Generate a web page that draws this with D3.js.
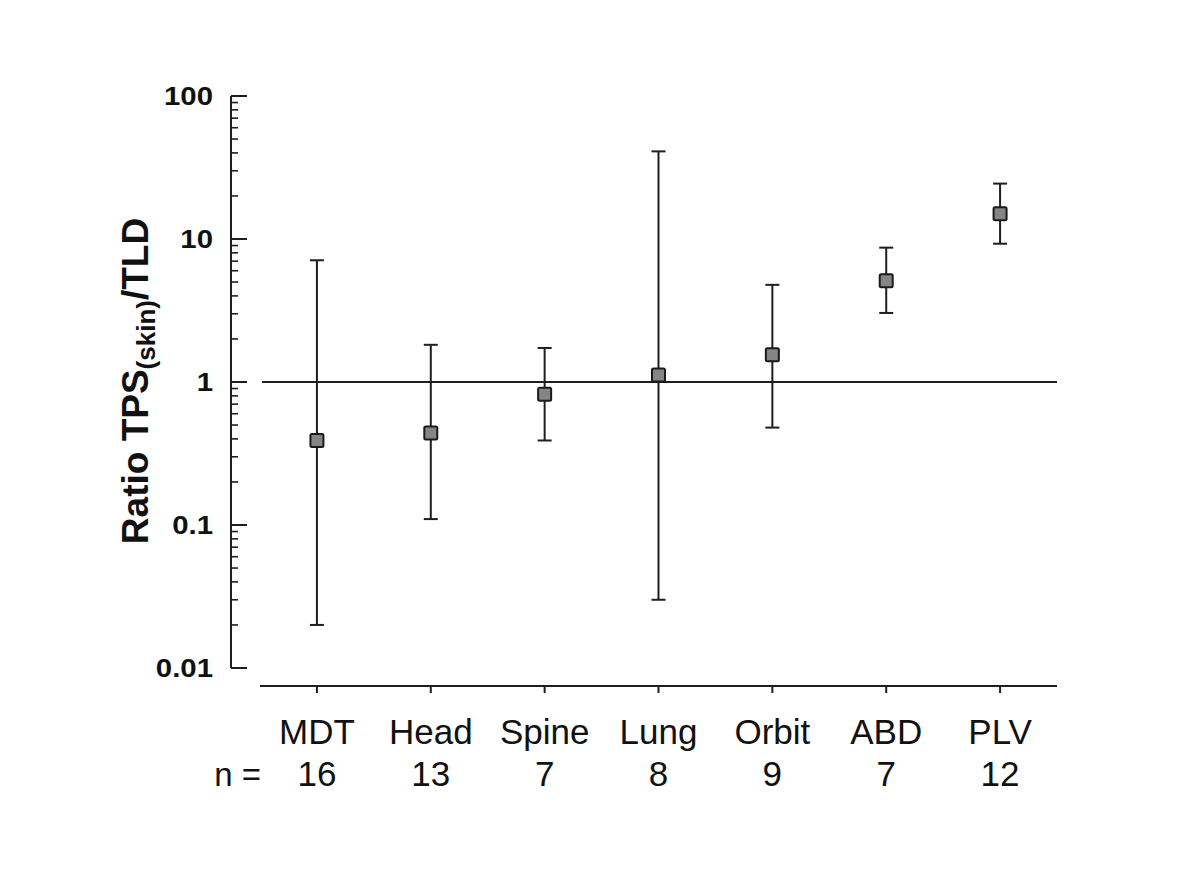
<!DOCTYPE html>
<html><head><meta charset="utf-8">
<script src="https://cdn.jsdelivr.net/npm/d3@7"></script>
<style>body{margin:0;background:#fff}svg{display:block}</style>
</head><body>
<svg id="c" width="1200" height="882"></svg>
<script>
const categories = ["MDT","Head","Spine","Lung","Orbit","ABD","PLV"];
const counts = [16,13,7,8,9,7,12];
const medians = [0.39,0.44,0.82,1.12,1.55,5.1,15.0];
const lower = [0.02,0.11,0.39,0.03,0.48,3.04,9.27];
const upper = [7.1,1.82,1.73,41,4.78,8.7,24.4];
const yTicks = [0.01,0.1,1,10,100];
const yTickLabels = ["0.01","0.1","1","10","100"];

const svg = d3.select("#c");
const ink = "#1e1e1e";
const font = "Liberation Sans, Arial, sans-serif";
const y = d3.scaleLog().domain([0.01,100]).range([668,96]);
const x = d3.scalePoint().domain(categories).range([260,1057]).padding(0.5);
const axX = 231;

// y axis line
svg.append("line").attr("x1",axX).attr("x2",axX).attr("y1",y(100)).attr("y2",y(0.01))
  .attr("stroke",ink).attr("stroke-width",2);
const minors = [];
for (let d=0.01; d<100; d*=10) for (let k=2;k<=9;k++) minors.push(+(d*k).toPrecision(3));
svg.selectAll(".mn").data(minors).join("line")
  .attr("x1",axX).attr("x2",axX+7).attr("y1",d=>y(d)).attr("y2",d=>y(d))
  .attr("stroke",ink).attr("stroke-width",1.6);
svg.selectAll(".mj").data(yTicks).join("line")
  .attr("x1",axX).attr("x2",axX+16).attr("y1",d=>y(d)).attr("y2",d=>y(d))
  .attr("stroke",ink).attr("stroke-width",2);
svg.selectAll(".yl").data(yTicks).join("text")
  .attr("transform",d=>`translate(213,${y(d)}) scale(1.13,1)`)
  .attr("dy","0.36em").attr("text-anchor","end")
  .attr("font-family",font).attr("font-weight","bold")
  .attr("font-size",26).attr("fill","#111").text((d,i)=>yTickLabels[i]);

// x axis
svg.append("line").attr("x1",260).attr("x2",1057).attr("y1",686).attr("y2",686)
  .attr("stroke",ink).attr("stroke-width",2);
svg.selectAll(".xt").data(categories).join("line")
  .attr("x1",d=>x(d)).attr("x2",d=>x(d)).attr("y1",686).attr("y2",693)
  .attr("stroke",ink).attr("stroke-width",2);
svg.selectAll(".xl").data(categories).join("text")
  .attr("x",d=>x(d)).attr("y",744).attr("text-anchor","middle")
  .attr("font-family",font).attr("font-size",35).attr("fill","#111").text(d=>d);
svg.selectAll(".nl").data(categories).join("text")
  .attr("x",d=>x(d)).attr("y",786).attr("text-anchor","middle")
  .attr("font-family",font).attr("font-size",35).attr("fill","#111").text((d,i)=>counts[i]);
svg.append("text").attr("x",261).attr("y",786).attr("text-anchor","end")
  .attr("font-family",font).attr("font-size",33).attr("fill","#111").text("n =");

// reference line
svg.append("line").attr("x1",262).attr("x2",1057).attr("y1",y(1)).attr("y2",y(1))
  .attr("stroke",ink).attr("stroke-width",2);

// error bars
const g = svg.selectAll(".eb").data(categories).join("g");
g.append("line").attr("x1",d=>x(d)).attr("x2",d=>x(d))
  .attr("y1",(d,i)=>y(upper[i])).attr("y2",(d,i)=>y(lower[i]))
  .attr("stroke",ink).attr("stroke-width",2);
g.append("line").attr("x1",d=>x(d)-7).attr("x2",d=>x(d)+7)
  .attr("y1",(d,i)=>y(upper[i])).attr("y2",(d,i)=>y(upper[i]))
  .attr("stroke",ink).attr("stroke-width",2);
g.append("line").attr("x1",d=>x(d)-7).attr("x2",d=>x(d)+7)
  .attr("y1",(d,i)=>y(lower[i])).attr("y2",(d,i)=>y(lower[i]))
  .attr("stroke",ink).attr("stroke-width",2);
g.append("rect").attr("x",d=>x(d)-6.5).attr("y",(d,i)=>y(medians[i])-6.5)
  .attr("width",13).attr("height",13).attr("rx",1.5)
  .attr("fill","#858585").attr("stroke","#1a1a1a").attr("stroke-width",2);

// y label
const yl = svg.append("text").attr("transform","translate(148,381) rotate(-90)")
  .attr("text-anchor","middle").attr("font-family",font).attr("font-weight","bold")
  .attr("font-size",37).attr("fill","#111");
yl.append("tspan").text("Ratio TPS");
yl.append("tspan").attr("font-size",26).attr("dy",7).text("(skin)");
yl.append("tspan").attr("dy",-7).text("/TLD");
</script>
</body></html>
